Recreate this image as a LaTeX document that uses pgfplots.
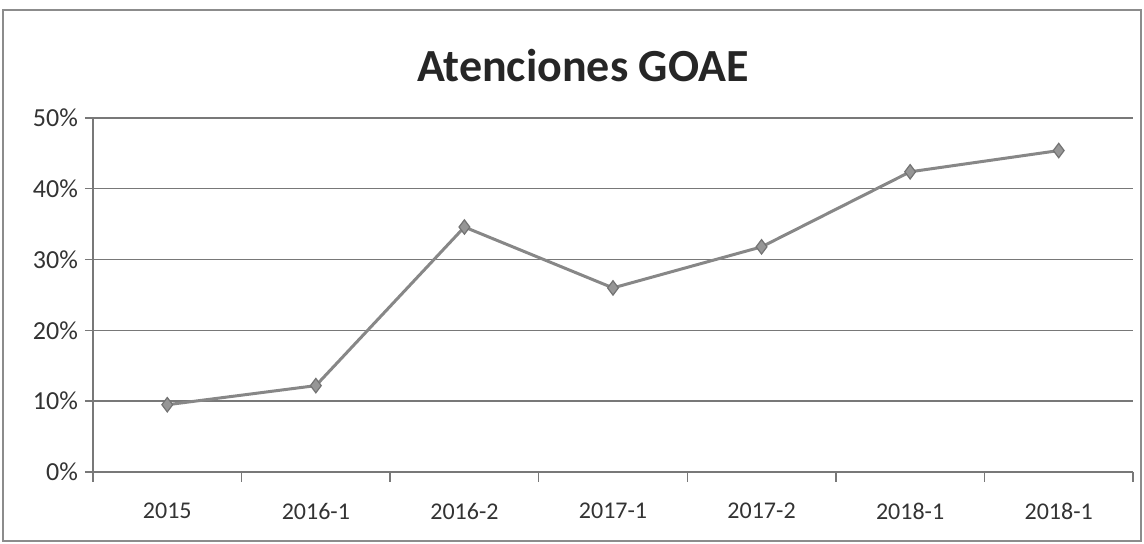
\documentclass[border=0pt]{standalone}
\usepackage{fontspec}
\setmainfont{Carlito}
\usepackage{pgfplots}
\pgfplotsset{compat=1.18}
\definecolor{gridgray}{RGB}{120,120,120}
\definecolor{linegray}{RGB}{135,135,135}
\definecolor{markgray}{RGB}{150,150,150}
\begin{document}
\begin{tikzpicture}[x=1pt,y=1pt]
\useasboundingbox (0,0) rectangle (572,272);
\draw[black!45, line width=0.8pt] (1.5,1.5) rectangle (570.5,267);
\node[font=\bfseries\fontsize{23}{27}\selectfont, text=black!85] at (291.5,239) {Atenciones GOAE};
\begin{axis}[
    at={(46.5pt,36pt)}, anchor=south west,
    scale only axis, width=520pt, height=177pt,
    xmin=-0.5, xmax=6.5, ymin=0, ymax=50,
    axis x line*=bottom, axis y line*=left,
    axis line style={gridgray, line width=0.7pt},
    xtick={0,...,6},
    xticklabels={2015,2016-1,2016-2,2017-1,2017-2,2018-1,2018-1},
    major x tick style={draw=none},
    minor xtick={-0.5,0.5,...,6.5},
    minor tick length=5pt,
    minor x tick style={gridgray, line width=0.7pt},
    ytick={0,10,...,50},
    yticklabel={\pgfmathprintnumber{\tick}\%},
    major tick length=4pt,
    tick align=outside,
    y tick style={gridgray, line width=0.7pt},
    ymajorgrids, grid style={gridgray, line width=0.7pt},
    ticklabel style={font=\fontsize{12}{14}\selectfont, text=black!80},
    yticklabel style={font=\fontsize{13}{15}\selectfont},
    xticklabel style={yshift=-8pt},
    /pgf/number format/assume math mode=true,
    clip=false,
]
\addplot[linegray, line width=1.5pt, mark=diamond*, mark size=3.6pt,
    mark options={fill=markgray, draw=black!55, line width=0.6pt}]
    coordinates {(0,9.5) (1,12.2) (2,34.6) (3,26.0) (4,31.8) (5,42.4) (6,45.4)};
\end{axis}
\end{tikzpicture}
\end{document}
